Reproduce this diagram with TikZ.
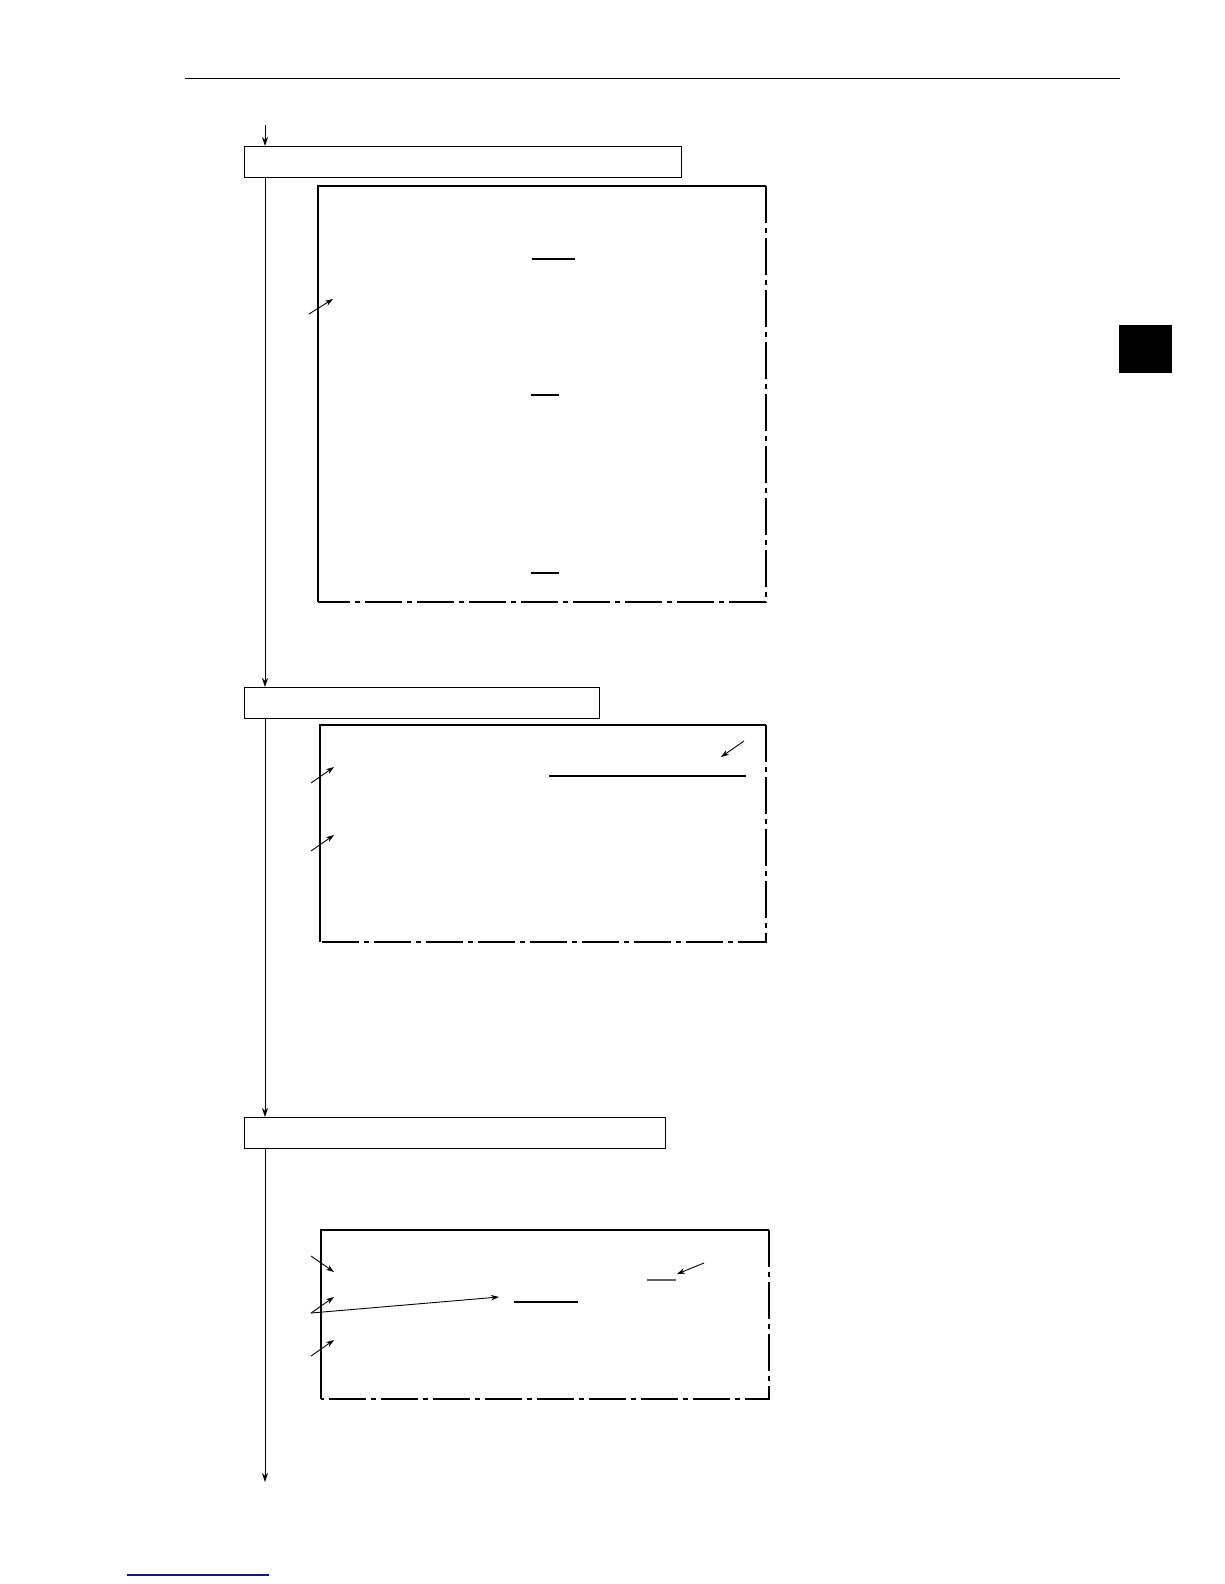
\documentclass[tikz,border=0pt]{standalone}
\usetikzlibrary{arrows.meta}
\definecolor{linkblue}{RGB}{20,20,140}
\begin{document}
\begin{tikzpicture}[x=1pt,y=-1pt]
  \tikzstyle{stage}=[draw,rectangle,line width=1pt,minimum height=31pt,inner sep=0pt,anchor=north west]
  \tikzstyle{flow}=[line width=1pt,-{Stealth[length=9pt,width=6pt]}]
  \tikzstyle{pointer}=[line width=0.9pt,-{Stealth[length=8pt,width=5.5pt]}]
  \tikzstyle{frame}=[line width=1.6pt]
  \tikzstyle{open}=[line width=1.3pt,dash pattern=on 37pt off 5pt on 5pt off 5pt]
  \tikzstyle{uline}=[line width=1.1pt]
  \useasboundingbox (0,0) rectangle (1224,1584);
  % page furniture
  \draw[line width=0.8pt] (185,78) -- (1120,78);
  \fill (1119,325) rectangle (1172,373);
  \draw[linkblue,line width=1.2pt] (127,1575) -- (269,1575);
  % stages
  \node[stage,minimum width=437pt] (s1) at (244,146) {};
  \node[stage,minimum width=355pt] (s2) at (244,687) {};
  \node[stage,minimum width=421pt] (s3) at (244,1117) {};
  \coordinate (in) at (265,125);
  \coordinate (out) at (265,1482);
  \draw[flow] (in) -- (in |- s1.north);
  \draw[flow] (s1.south -| in) -- (s2.north -| in);
  \draw[flow] (s2.south -| in) -- (s3.north -| in);
  \draw[flow] (s3.south -| in) -- (out);
  % panels
  \foreach \xa/\ya/\xb/\yb in {318/186/766/602, 320/725/766/942, 321/1230/769/1399} {
    \draw[frame] (\xa,\yb) -- (\xa,\ya) -- (\xb,\ya);
    \draw[open] (\xb,\ya) -- (\xb,\yb) -- (\xa,\yb);
  }
  % panel 1
  \draw[uline] (532,259) -- (575,259);
  \draw[uline] (531,395) -- (559,395);
  \draw[uline] (531,573) -- (559,573);
  \coordinate (a1t) at (309,314);
  \coordinate (a1h) at (333,299);
  \draw[pointer] (a1t) -- (a1h);
  % panel 2
  \draw[uline] (549,776) -- (746,776);
  \coordinate (b1t) at (744,741);
  \coordinate (b1h) at (721,757);
  \coordinate (b2t) at (311,783);
  \coordinate (b2h) at (334,767);
  \coordinate (b3t) at (311,851);
  \coordinate (b3h) at (334,835);
  \draw[pointer] (b1t) -- (b1h);
  \draw[pointer] (b2t) -- (b2h);
  \draw[pointer] (b3t) -- (b3h);
  % panel 3
  \draw[uline] (514,1302) -- (578,1302);
  \draw[uline,black!60] (647,1280) -- (676,1280);
  \coordinate (c1t) at (311,1256);
  \coordinate (c1h) at (334,1272);
  \coordinate (c2t) at (311,1313);
  \coordinate (c2h) at (334,1297);
  \coordinate (c3h) at (499,1297);
  \coordinate (c4t) at (704,1263);
  \coordinate (c4h) at (677,1274);
  \coordinate (c5t) at (311,1356);
  \coordinate (c5h) at (334,1340);
  \draw[pointer] (c1t) -- (c1h);
  \draw[pointer] (c2t) -- (c2h);
  \draw[pointer] (c2t) -- (c3h);
  \draw[pointer] (c4t) -- (c4h);
  \draw[pointer] (c5t) -- (c5h);
\end{tikzpicture}
\end{document}
